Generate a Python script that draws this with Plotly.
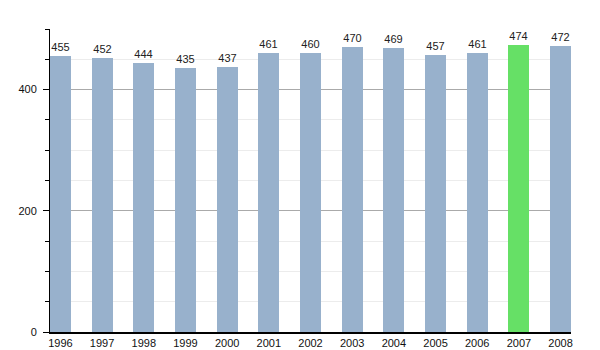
import plotly.graph_objects as go

years = ["1996", "1997", "1998", "1999", "2000", "2001", "2002",
         "2003", "2004", "2005", "2006", "2007", "2008"]
population = [455, 452, 444, 435, 437, 461, 460, 470, 469, 457, 461, 474, 472]
highlight_year = "2007"

base_color = "#98b1cc"
highlight_color = "#66e066"
colors = [highlight_color if y == highlight_year else base_color for y in years]

x_pos = list(range(len(years)))

fig = go.Figure(
    go.Bar(
        x=x_pos,
        y=population,
        width=0.5,
        marker=dict(color=colors, line=dict(width=0)),
        text=[str(v) for v in population],
        textposition="outside",
        cliponaxis=False,
        textfont=dict(family="Liberation Sans, Arial, sans-serif", size=11, color="#222222"),
    )
)

fig.update_layout(
    width=600,
    height=350,
    margin=dict(l=50, r=29, t=29, b=18, autoexpand=False),
    paper_bgcolor="white",
    plot_bgcolor="white",
    showlegend=False,
    font=dict(family="Liberation Sans, Arial, sans-serif", size=11, color="#111111"),
    bargap=0,
)

fig.update_xaxes(
    range=[-0.25, len(years) - 0.75],
    tickmode="array",
    tickvals=x_pos,
    ticktext=years,
    showgrid=False,
    showline=True,
    linecolor="black",
    linewidth=1.5,
    ticks="",
    zeroline=False,
    ticklen=0,
    automargin=False,
    tickfont=dict(size=11),
)

fig.update_yaxes(
    range=[0, 500],
    tick0=0,
    dtick=200,
    showgrid=True,
    gridcolor="#aaaaaa",
    gridwidth=1,
    showline=True,
    linecolor="black",
    linewidth=1,
    ticks="outside",
    ticklen=6,
    tickcolor="black",
    zeroline=False,
    automargin=False,
    ticklabelstandoff=4,
    tickfont=dict(size=11),
    minor=dict(
        dtick=50,
        tick0=0,
        ticks="outside",
        ticklen=4,
        tickcolor="black",
        showgrid=True,
        gridcolor="#ececec",
        gridwidth=1,
    ),
)

fig.write_html("out.html")
